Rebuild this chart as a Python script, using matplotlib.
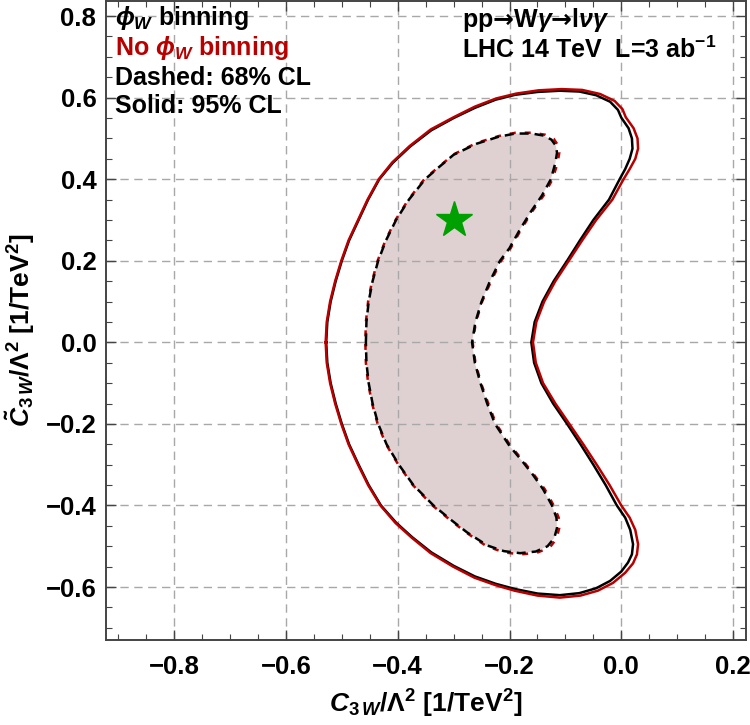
import matplotlib
matplotlib.use("Agg")
import matplotlib.pyplot as plt
from matplotlib.ticker import MultipleLocator

plt.rcParams['font.family'] = ['Liberation Sans', 'DejaVu Sans']
plt.rcParams['font.weight'] = 'bold'
plt.rcParams['axes.labelweight'] = 'bold'
plt.rcParams['mathtext.fontset'] = 'custom'
plt.rcParams['mathtext.rm'] = 'Liberation Sans:bold'
plt.rcParams['mathtext.bf'] = 'Liberation Sans:bold'
plt.rcParams['mathtext.it'] = 'Liberation Sans:bold:italic'
plt.rcParams['mathtext.sf'] = 'DejaVu Sans:bold'

# 95% CL contour, phi_W binning (black solid)
outer_black_x = [-0.528, -0.526, -0.520, -0.511, -0.500, -0.487, -0.470, -0.453, -0.433, -0.409,
                 -0.378, -0.340, -0.300, -0.262, -0.225, -0.190, -0.150, -0.110, -0.075, -0.045,
                 -0.020, -0.006, 0.000, 0.013, 0.019, 0.020, 0.015, 0.007, -0.003, -0.022,
                 -0.050, -0.074, -0.097, -0.121, -0.141, -0.155, -0.161,
                 -0.156, -0.143, -0.122, -0.097, -0.073, -0.050, -0.028, -0.008, 0.007, 0.016,
                 0.021, 0.019, 0.012, 0.000, -0.020, -0.045, -0.075, -0.110, -0.150, -0.190,
                 -0.225, -0.262, -0.300, -0.340, -0.374, -0.403, -0.430, -0.452, -0.470, -0.487,
                 -0.500, -0.511, -0.520, -0.526, -0.528]
outer_black_y = [0.000, 0.050, 0.100, 0.150, 0.200, 0.250, 0.300, 0.350, 0.400, 0.440,
                 0.480, 0.520, 0.550, 0.575, 0.595, 0.607, 0.614, 0.617, 0.615, 0.606,
                 0.590, 0.570, 0.551, 0.525, 0.500, 0.475, 0.450, 0.425, 0.400, 0.350,
                 0.300, 0.250, 0.200, 0.150, 0.100, 0.050, 0.000,
                 -0.050, -0.100, -0.150, -0.200, -0.250, -0.300, -0.350, -0.400, -0.430, -0.460,
                 -0.495, -0.520, -0.540, -0.562, -0.585, -0.603, -0.615, -0.620, -0.616, -0.605,
                 -0.592, -0.574, -0.548, -0.515, -0.478, -0.442, -0.400, -0.350, -0.300, -0.250,
                 -0.200, -0.150, -0.100, -0.050, 0.000]

# 95% CL contour, no phi_W binning (red solid)
outer_red_x = [-0.529, -0.527, -0.521, -0.512, -0.501, -0.488, -0.471, -0.454, -0.434, -0.410,
               -0.379, -0.341, -0.300, -0.262, -0.224, -0.188, -0.148, -0.107, -0.070, -0.038,
               -0.012, 0.002, 0.008, 0.022, 0.029, 0.030, 0.025, 0.015, 0.004, -0.016,
               -0.045, -0.070, -0.094, -0.118, -0.138, -0.152, -0.158,
               -0.153, -0.140, -0.118, -0.093, -0.068, -0.044, -0.021, 0.000, 0.015, 0.025,
               0.030, 0.028, 0.021, 0.007, -0.015, -0.042, -0.073, -0.110, -0.150, -0.191,
               -0.226, -0.263, -0.301, -0.341, -0.375, -0.404, -0.431, -0.453, -0.471, -0.488,
               -0.501, -0.512, -0.521, -0.527, -0.529]
outer_red_y = [0.000, 0.050, 0.100, 0.150, 0.200, 0.250, 0.300, 0.350, 0.400, 0.441,
               0.481, 0.522, 0.552, 0.578, 0.598, 0.610, 0.618, 0.621, 0.619, 0.609,
               0.592, 0.572, 0.552, 0.525, 0.500, 0.475, 0.450, 0.425, 0.400, 0.350,
               0.300, 0.250, 0.200, 0.150, 0.100, 0.050, 0.000,
               -0.050, -0.100, -0.150, -0.200, -0.250, -0.300, -0.350, -0.400, -0.430, -0.460,
               -0.495, -0.520, -0.542, -0.565, -0.590, -0.609, -0.621, -0.626, -0.621, -0.609,
               -0.595, -0.577, -0.550, -0.517, -0.479, -0.443, -0.400, -0.350, -0.300, -0.250,
               -0.200, -0.150, -0.100, -0.050, 0.000]

# 68% CL contour, phi_W binning (black dashed)
inner_black_x = [-0.457, -0.456, -0.452, -0.445, -0.435, -0.421, -0.403, -0.380, -0.351, -0.326,
                 -0.300, -0.259, -0.220, -0.190, -0.160, -0.139, -0.125, -0.117, -0.115, -0.118,
                 -0.126, -0.142, -0.162, -0.182, -0.200, -0.217, -0.235, -0.250, -0.261, -0.267,
                 -0.262, -0.252, -0.240, -0.226, -0.200, -0.178, -0.158, -0.140, -0.124, -0.116,
                 -0.115, -0.120, -0.132, -0.153, -0.181, -0.210, -0.240, -0.276, -0.305, -0.336,
                 -0.372, -0.398, -0.420, -0.435, -0.445, -0.452, -0.456, -0.457]
inner_black_y = [0.000, 0.050, 0.100, 0.150, 0.200, 0.250, 0.300, 0.350, 0.400, 0.430,
                 0.460, 0.487, 0.504, 0.512, 0.512, 0.507, 0.497, 0.482, 0.465, 0.440,
                 0.400, 0.360, 0.320, 0.275, 0.231, 0.200, 0.150, 0.100, 0.050, 0.000,
                 -0.050, -0.100, -0.150, -0.200, -0.254, -0.290, -0.325, -0.360, -0.400, -0.430,
                 -0.455, -0.480, -0.500, -0.513, -0.517, -0.512, -0.498, -0.466, -0.435, -0.400,
                 -0.350, -0.300, -0.250, -0.200, -0.150, -0.100, -0.050, 0.000]

# 68% CL contour, no phi_W binning (red dashed)
inner_red_x = [-0.458, -0.457, -0.453, -0.446, -0.436, -0.422, -0.404, -0.381, -0.352, -0.326,
               -0.300, -0.259, -0.219, -0.189, -0.158, -0.136, -0.121, -0.113, -0.111, -0.114,
               -0.123, -0.139, -0.160, -0.180, -0.198, -0.215, -0.233, -0.249, -0.260, -0.266,
               -0.261, -0.251, -0.238, -0.224, -0.198, -0.176, -0.156, -0.137, -0.121, -0.112,
               -0.111, -0.116, -0.128, -0.151, -0.180, -0.210, -0.241, -0.277, -0.306, -0.337,
               -0.373, -0.399, -0.421, -0.436, -0.446, -0.453, -0.457, -0.458]
inner_red_y = [0.000, 0.050, 0.100, 0.150, 0.200, 0.250, 0.300, 0.350, 0.401, 0.431,
               0.461, 0.489, 0.506, 0.514, 0.514, 0.509, 0.499, 0.483, 0.465, 0.440,
               0.400, 0.360, 0.320, 0.275, 0.231, 0.200, 0.150, 0.100, 0.050, 0.000,
               -0.050, -0.100, -0.150, -0.200, -0.254, -0.290, -0.325, -0.360, -0.400, -0.430,
               -0.455, -0.482, -0.503, -0.516, -0.520, -0.515, -0.500, -0.467, -0.436, -0.401,
               -0.350, -0.300, -0.250, -0.200, -0.150, -0.100, -0.050, 0.000]

# benchmark point
star_x = [-0.30]
star_y = [0.30]

red = '#b80000'

fig = plt.figure(figsize=(7.5, 7.25), dpi=100)
ax = fig.add_axes([0.1413, 0.1172, 0.8533, 0.8814])

ax.fill(inner_black_x, inner_black_y, color='#dfd1d1', lw=0, zorder=1)
ax.plot(outer_black_x, outer_black_y, color='black', lw=1.8, zorder=3)
ax.plot(outer_red_x, outer_red_y, color=red, lw=1.8, zorder=3)
ax.plot(inner_red_x, inner_red_y, color=red, lw=1.8, ls=(3.6, (2.4, 3.6)), zorder=3)
ax.plot(inner_black_x, inner_black_y, color='black', lw=1.8, ls=(0, (3.6, 2.4)), zorder=4)
ax.plot(star_x, star_y, marker='*', color='#00a000', markersize=27, ls='none', zorder=5)

ax.set_xlim(-0.922, 0.223)
ax.set_ylim(-0.73, 0.837)
ax.xaxis.set_minor_locator(MultipleLocator(0.05))
ax.yaxis.set_minor_locator(MultipleLocator(0.05))
ax.set_xticks([-0.8, -0.6, -0.4, -0.2, 0.0, 0.2])
ax.set_yticks([-0.6, -0.4, -0.2, 0.0, 0.2, 0.4, 0.6, 0.8])
ax.tick_params(which='both', direction='in', top=True, right=True, color='#444444')
ax.tick_params(which='major', length=7, width=1.0, labelsize=18.5, pad=7)
ax.tick_params(which='minor', length=4, width=0.8)
ax.tick_params(axis='x', which='major', pad=11)
for s in ax.spines.values():
    s.set_color('#444444')
    s.set_linewidth(1.4)
ax.grid(True, which='major', ls=(0, (6, 4)), color='#a8a8a8', lw=1.0, zorder=0)

ax.set_xlabel(r'$C_{3\,W}/\Lambda^2$ [1/TeV$^2$]', fontsize=19, labelpad=6)
ax.set_ylabel(r'$\tilde{C}_{3\,W}/\Lambda^2$ [1/TeV$^2$]', fontsize=19)
ax.yaxis.set_label_coords(-0.108, 0.485)

tfs = 18
ax.text(0.014, 0.973, r'$\phi_W$ binning', transform=ax.transAxes, fontsize=tfs, va='center', ha='left')
ax.text(0.014, 0.927, r'No $\phi_W$ binning', transform=ax.transAxes, fontsize=tfs, va='center', ha='left', color=red)
ax.text(0.014, 0.880, 'Dashed: 68% CL', transform=ax.transAxes, fontsize=tfs, va='center', ha='left')
ax.text(0.014, 0.835, 'Solid: 95% CL', transform=ax.transAxes, fontsize=tfs, va='center', ha='left')
ax.text(0.556, 0.970, r'pp$\mathsf{→}$W$\gamma\mathsf{→}$l$\nu\gamma$', transform=ax.transAxes,
        fontsize=tfs, va='center', ha='left')
ax.text(0.556, 0.924, r'LHC 14 TeV  L=3 ab$^{-1}$', transform=ax.transAxes, fontsize=tfs, va='center', ha='left')

fig.savefig('out.png', dpi=100)
